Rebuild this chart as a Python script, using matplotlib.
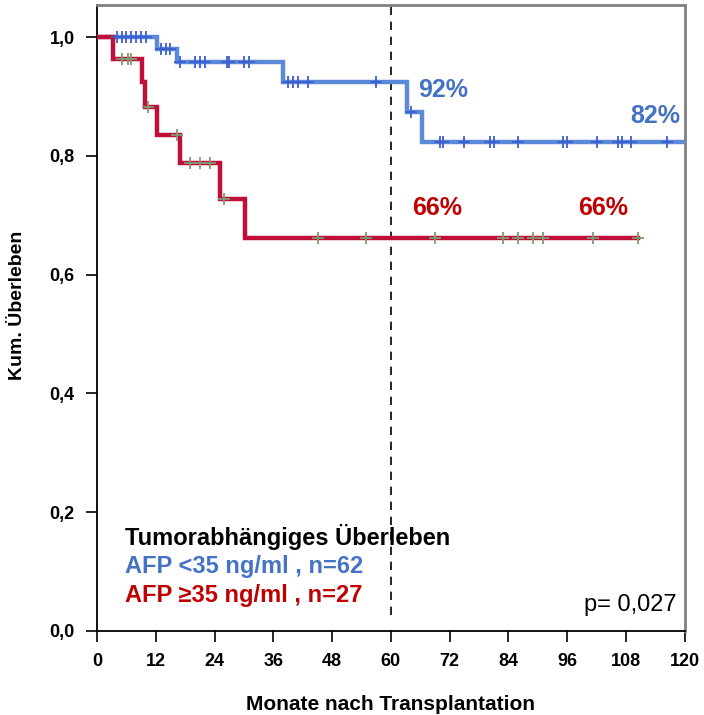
import matplotlib
matplotlib.use("Agg")
import matplotlib.pyplot as plt
import numpy as np

# Kaplan-Meier steps (months, survival)
blue_t = [0, 12.3, 16.3, 38, 63.3, 66.3, 120]
blue_s = [1.0, 0.98, 0.958, 0.924, 0.874, 0.823, 0.823]
blue_cens = [4, 5, 6, 7, 8, 9, 10, 13, 14, 15, 17, 20, 21, 22, 26.5, 27, 30, 31,
             39, 40, 41, 43, 57, 64, 70, 70.7, 75, 80.2, 81, 86, 95.2, 96, 102,
             106.4, 107.1, 109.1, 116.3]

red_t = [0, 3.3, 9.2, 9.8, 12.3, 17, 25.1, 30.2, 110.5]
red_s = [1.0, 0.963, 0.924, 0.882, 0.835, 0.788, 0.727, 0.662, 0.662]
red_cens = [5, 6.3, 7, 10.4, 16.3, 19, 21, 23, 25.9, 45.2, 55, 69, 82.9, 86,
            89, 91.1, 101.3, 110.5]

x_ticks = np.arange(0, 121, 12)
y_ticks = [0.0, 0.2, 0.4, 0.6, 0.8, 1.0]
y_labels = ["0,0", "0,2", "0,4", "0,6", "0,8", "1,0"]

blue_line = "#5a8ad8"
blue_mark = "#3d5fd0"
blue_text = "#4472c4"
red_line = "#c0103a"
red_mark = "#7f9c72"
red_text = "#c00000"

plt.rcParams["font.family"] = ["Liberation Sans", "DejaVu Sans"]


def step_value(t, s, x):
    idx = np.searchsorted(t, x, side="right") - 1
    return np.array(s)[idx]


fig = plt.figure(figsize=(7.04, 7.15), dpi=100)
ax = fig.add_axes([0.1378, 0.1175, 0.835, 0.8755])

ax.plot(blue_t, blue_s, drawstyle="steps-post", color=blue_line, lw=3.2,
        solid_joinstyle="miter", zorder=3)
ax.plot(red_t, red_s, drawstyle="steps-post", color=red_line, lw=3.2,
        solid_joinstyle="miter", zorder=3)

ax.plot(blue_cens, step_value(blue_t, blue_s, blue_cens), ls="none",
        marker="+", ms=9, mew=1.3, color=blue_mark, zorder=4)
ax.plot(red_cens, step_value(red_t, red_s, red_cens), ls="none",
        marker="+", ms=8, mew=1.3, color=red_mark, zorder=4)

ax.axvline(60, ymin=0.025, ymax=1, color="black", ls=(0, (5, 4)), lw=1.2,
           zorder=2)

ax.set_xlim(0, 120)
ax.set_ylim(0, 1.054)
ax.set_xticks(x_ticks)
ax.set_xticklabels([str(v) for v in x_ticks], fontweight="bold", fontsize=13)
ax.set_yticks(y_ticks)
ax.set_yticklabels(y_labels, fontweight="bold", fontsize=13)
ax.tick_params(axis="both", direction="out", length=8, width=1.2,
               color="black", pad=8)

for side in ["left", "bottom"]:
    ax.spines[side].set_color("black")
    ax.spines[side].set_linewidth(1.3)
for side in ["top", "right"]:
    ax.spines[side].set_color("#808080")
    ax.spines[side].set_linewidth(2)

ax.set_xlabel("Monate nach Transplantation", fontweight="bold", fontsize=15,
              va="center")
ax.xaxis.set_label_coords(0.5, -0.118)
ax.set_ylabel("Kum. Überleben", fontweight="bold", fontsize=14)
ax.yaxis.set_label_coords(-0.12, 0.52)

ax.text(65.5, 0.911, "92%", color=blue_text, fontsize=18, fontweight="bold",
        ha="left", va="center")
ax.text(119, 0.867, "82%", color=blue_text, fontsize=18, fontweight="bold",
        ha="right", va="center")
ax.text(64.3, 0.712, "66%", color=red_text, fontsize=18, fontweight="bold",
        ha="left", va="center")
ax.text(108.4, 0.712, "66%", color=red_text, fontsize=18, fontweight="bold",
        ha="right", va="center")

ax.text(5.7, 0.158, "Tumorabhängiges Überleben", color="black", fontsize=17,
        fontweight="bold", va="center")
ax.text(5.7, 0.108, "AFP <35 ng/ml , n=62", color=blue_text, fontsize=17,
        fontweight="bold", va="center")
ax.text(5.7, 0.059, "AFP \u226535 ng/ml , n=27", color=red_text, fontsize=17,
        fontweight="bold", va="center")
ax.text(118.4, 0.044, "p= 0,027", color="black", fontsize=17, ha="right",
        va="center")

fig.savefig("out.png", dpi=100)
